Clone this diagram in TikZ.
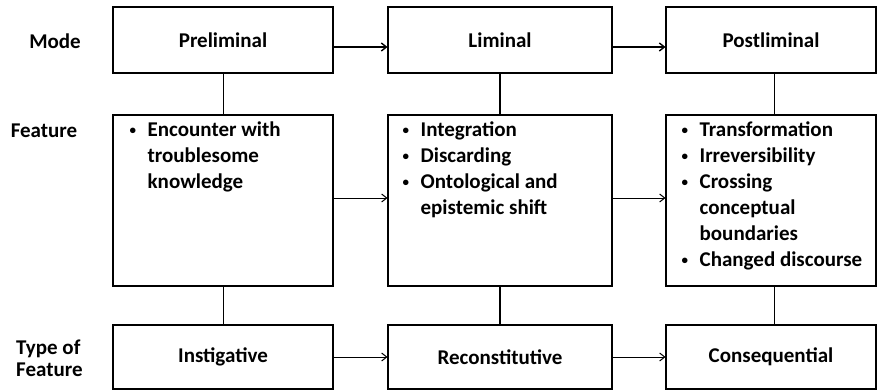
\documentclass[tikz,border=0pt]{standalone}
\usepackage{fontspec}
\setmainfont{Carlito}
\usetikzlibrary{arrows.meta}
\newcommand\bul{\makebox[18pt][l]{\raisebox{1.5pt}{\fontsize{13}{13}\selectfont\textbullet}}}
\newcommand\ind{\hspace*{18pt}}
\newcommand\featlist[1]{\begin{tabular}[t]{@{}l@{}}#1\end{tabular}}
\begin{document}
\begin{tikzpicture}[x=1pt,y=-1pt,
  box/.style={draw, line width=1.1pt, inner sep=0pt, font=\fontsize{21}{24}\selectfont\bfseries},
  txt/.style={inner sep=0pt, anchor=base west, font=\fontsize{21}{26}\selectfont\bfseries},
  lbl/.style={inner sep=0pt, font=\fontsize{21}{22}\selectfont\bfseries},
  flow/.style={line width=1pt, -{Straight Barb[length=5pt,width=8pt]}},
  link/.style={line width=1pt}]
\useasboundingbox (0,0) rectangle (878,391);
% row labels
\node[lbl, anchor=base] (mode) at (55,48) {Mode};
\node[lbl, anchor=base] (feat) at (44,137) {Feature};
\node[lbl, anchor=west, align=left] (type) at (16,358) {Type of\\Feature};
% mode boxes
\node[box, minimum width=220pt, minimum height=66pt] (P) at (223,40) {Preliminal};
\node[box, minimum width=224pt, minimum height=66pt] (L) at (500,40) {Liminal};
\node[box, minimum width=210pt, minimum height=66pt] (Po) at (771,40) {Postliminal};
% feature boxes
\node[box, minimum width=220pt, minimum height=171pt] (F1) at (223,200.5) {};
\node[box, minimum width=224pt, minimum height=171pt] (F2) at (500,200.5) {};
\node[box, minimum width=210pt, minimum height=171pt] (F3) at (771,200.5) {};
\node[txt] (F1t) at ([shift={(17,22)}]F1.north west) {\featlist{\bul Encounter with\\ \ind troublesome\\ \ind knowledge}};
\node[txt] (F2t) at ([shift={(15,22)}]F2.north west) {\featlist{\bul Integration\\ \bul Discarding\\ \bul Ontological and\\ \ind epistemic shift}};
\node[txt] (F3t) at ([shift={(16,22)}]F3.north west) {\featlist{\bul Transformation\\ \bul Irreversibility\\ \bul Crossing\\ \ind conceptual\\ \ind boundaries\\ \bul Changed discourse}};
% type boxes
\node[box, minimum width=220pt, minimum height=64pt] (B1) at (223,357) {Instigative};
\node[box, minimum width=224pt, minimum height=64pt] (B2) at (500,357) {Reconstitutive};
\node[box, minimum width=210pt, minimum height=64pt] (B3) at (771,357) {Consequential};
% vertical links
\draw[link] (P) -- (F1);
\draw[link] (F1) -- (B1);
\draw[link, line width=1.6pt] (L) -- (F2);
\draw[link, line width=1.6pt] (F2) -- (B2);
\draw[link] ([xshift=3pt]Po.south) -- ([xshift=3pt]F3.north);
\draw[link] ([xshift=3pt]F3.south) -- ([xshift=3pt]B3.north);
% flow arrows
\draw[flow, line width=1.4pt] ([yshift=-7pt]P.east) -- ([yshift=-7pt]L.west);
\draw[flow, line width=1.4pt] ([yshift=-7pt]L.east) -- ([yshift=-7pt]Po.west);
\draw[flow] ([yshift=2.5pt]F1.east) -- ([yshift=2.5pt]F2.west);
\draw[flow] ([yshift=2.5pt]F2.east) -- ([yshift=2.5pt]F3.west);
\draw[flow] (B1) -- (B2);
\draw[flow] (B2) -- (B3);
\end{tikzpicture}
\end{document}
